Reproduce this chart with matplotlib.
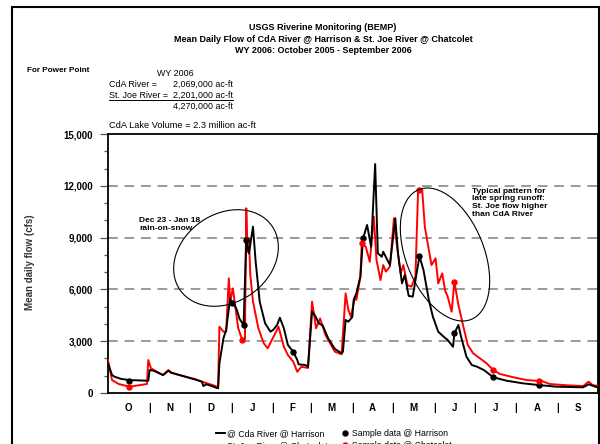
import matplotlib
matplotlib.use('Agg')
import matplotlib.pyplot as plt
from matplotlib.patches import Ellipse, Rectangle
from matplotlib.lines import Line2D
from matplotlib.transforms import IdentityTransform
from matplotlib.ticker import FuncFormatter, MultipleLocator

plt.rcParams['font.family'] = ['Liberation Sans', 'DejaVu Sans']

# dias do ano hidrologico (0 = 1 out 2005) e vazao media diaria (cfs)
cda_dias = [0, 3, 5, 10, 16, 30, 31, 34, 41, 45, 47, 55, 65, 70, 71, 73, 75, 82, 83, 86, 88,
            91, 92, 93, 96, 98, 101, 103, 105, 108, 110, 113, 117, 121, 123, 126, 128, 131,
            134, 138, 141, 142, 147, 149, 152, 154, 157, 160, 164, 169, 174, 175, 177, 179,
            182, 183, 185, 188, 190, 193, 196, 199, 201, 204, 205, 210, 214, 216, 219, 221,
            224, 227, 232, 235, 239, 242, 246, 250, 253, 257, 258, 261, 263, 267, 271, 275,
            280, 287, 297, 309, 321, 334, 354, 358, 363, 365]
cda_cfs = [1700, 1040, 940, 810, 750, 710, 1330, 1290, 1040, 1290, 1180, 1000, 780, 655, 400,
           500, 460, 270, 1720, 3170, 3650, 5480, 5200, 5290, 4810, 4290, 3940, 8860, 8090,
           9630, 7600, 5290, 4040, 3550, 3650, 3940, 4360, 3750, 2780, 2390, 1910, 1660, 1620,
           1520, 4710, 4520, 4040, 3900, 3170, 2550, 2300, 2390, 4230, 4130, 4400, 5390, 5770,
           6740, 8960, 9730, 8470, 13260, 8090, 7890, 8180, 7410, 10120, 8090, 6350, 6830,
           5620, 5580, 7930, 7120, 5390, 4420, 3550, 3260, 3070, 2680, 3460, 3940, 3260, 2100,
           1620, 1520, 1330, 910, 710, 560, 460, 365, 330, 500, 365, 330]

joe_dias = [0, 3, 8, 16, 29, 30, 32, 35, 41, 45, 47, 55, 65, 70, 80, 82, 83, 86, 88, 90, 91,
            93, 95, 97, 100, 102, 103, 104, 105, 106, 108, 112, 116, 119, 122, 124, 127, 131,
            134, 138, 139, 141, 144, 149, 152, 155, 158, 162, 169, 174, 177, 179, 181, 184,
            185, 188, 189, 192, 195, 198, 200, 203, 205, 207, 210, 213, 215, 218, 220, 223,
            226, 229, 231, 234, 236, 239, 241, 244, 246, 249, 251, 253, 256, 258, 261, 265,
            268, 272, 277, 282, 287, 292, 302, 312, 321, 323, 329, 342, 354, 358, 361, 365]
joe_cfs = [1900, 750, 520, 365, 520, 1910, 1430, 1290, 1040, 1330, 1180, 1000, 800, 655, 405,
           330, 3840, 3550, 3550, 6640, 5290, 6060, 4900, 3750, 3070, 3130, 10700, 8180, 8960,
           6830, 5290, 3750, 2880, 2590, 3070, 3360, 3840, 2680, 2200, 1810, 1620, 1230, 1520,
           1450, 5290, 3750, 4320, 3360, 2390, 2240, 5770, 4810, 4420, 5580, 5390, 6740, 8670,
           8470, 7600, 10210, 7700, 6540, 7410, 7030, 7320, 10120, 8670, 6930, 7410, 6250,
           6160, 6740, 11760, 11800, 9630, 8280, 7410, 7800, 6350, 6930, 5970, 5580, 4710,
           6450, 5100, 3750, 2780, 2300, 2010, 1720, 1330, 1100, 910, 750, 695, 700, 520, 445,
           405, 655, 460, 405]

# amostras
am_cda_dias = [16, 92, 101, 103, 138, 190, 232, 258, 287, 321]
am_cda_cfs = [710, 5200, 3940, 8860, 2390, 8960, 7930, 3460, 910, 460]
am_joe_dias = [16, 100, 189, 232, 258, 287, 321]
am_joe_cfs = [350, 3070, 8670, 11760, 6450, 1330, 695]

meses = ['O', 'N', 'D', 'J', 'F', 'M', 'A', 'M', 'J', 'J', 'A', 'S']
dias_mes = [31, 30, 31, 31, 28, 31, 30, 31, 30, 31, 31, 30]

W, H = 600, 444
fig = plt.figure(figsize=(6, 4.44), dpi=100)


def fx(x):
    return x / W


def fy(y):
    return 1 - y / H


ax = fig.add_axes([fx(108), fy(393), (598 - 108) / W, (393 - 134) / H])

# linhas de grade tracejadas
for g in [3000, 6000, 9000, 12000]:
    ax.axhline(g, color='#9a9a9a', lw=1.4, dashes=(5, 3.5), zorder=1)

ax.plot(joe_dias, joe_cfs, color='red', lw=1.4, zorder=3, label='St. Joe River @ Chatcolet')
ax.plot(cda_dias, cda_cfs, color='black', lw=1.4, zorder=4, label='@ Cda River @ Harrison')
ax.plot(am_cda_dias, am_cda_cfs, 'o', color='black', ms=3.6, zorder=5, label='Sample data @ Harrison')
ax.plot(am_joe_dias, am_joe_cfs, 'o', color='red', ms=3.6, zorder=5, label='Sample data @ Chatcolet')

ax.set_xlim(0, 365)
ax.set_ylim(0, 15000)

for s in ax.spines.values():
    s.set_linewidth(1.3)

ax.yaxis.set_major_locator(MultipleLocator(3000))
ax.yaxis.set_minor_locator(MultipleLocator(1000))
ax.yaxis.set_major_formatter(FuncFormatter(lambda v, p: f'{int(v):,}'))
ax.tick_params(axis='y', which='major', length=6, width=0.9, color='#555555', pad=5,
               labelsize=7)
ax.tick_params(axis='y', which='minor', length=3, width=0.9, color='#555555')
for t in ax.get_yticklabels():
    t.set_fontweight('bold')

# meses no eixo x, com separadores
limites = []
meios = []
acc = 0
for d in dias_mes:
    meios.append(acc + d / 2)
    acc += d
    limites.append(acc)
ax.set_xticks(limites[:-1])
ax.set_xticklabels(['|'] * (len(limites) - 1), fontweight='bold', fontsize=7)
ax.set_xticks(meios, minor=True)
ax.set_xticklabels(meses, minor=True, fontweight='bold', fontsize=7)
ax.tick_params(axis='x', which='both', length=0, pad=7)

# textos
fig.text(fx(323), fy(27.5), 'USGS Riverine Monitoring (BEMP)', ha='center', va='center',
         fontsize=6.5, fontweight='bold')
fig.text(fx(323), fy(39.3), 'Mean Daily Flow of CdA River @ Harrison & St. Joe River @ Chatcolet',
         ha='center', va='center', fontsize=6.5, fontweight='bold')
fig.text(fx(323), fy(50.5), 'WY 2006: October 2005 - September 2006', ha='center', va='center',
         fontsize=6.5, fontweight='bold')

fig.text(fx(27), fy(71), 'For Power Point', ha='left', va='center', fontsize=5.9, fontweight='bold')
fig.text(fx(157), fy(73), 'WY 2006', ha='left', va='center', fontsize=6.4)
fig.text(fx(109), fy(84.5), 'CdA River =', ha='left', va='center', fontsize=6.4)
fig.text(fx(233), fy(84.5), '2,069,000 ac-ft', ha='right', va='center', fontsize=6.4)
fig.text(fx(109), fy(95.5), 'St. Joe River =', ha='left', va='center', fontsize=6.4)
fig.text(fx(233), fy(95.5), '2,201,000 ac-ft', ha='right', va='center', fontsize=6.4)
fig.add_artist(Line2D([fx(109), fx(233)], [fy(99.8), fy(99.8)], color='black', lw=0.7))
fig.text(fx(233), fy(106.5), '4,270,000 ac-ft', ha='right', va='center', fontsize=6.4)
fig.text(fx(109), fy(125), 'CdA Lake Volume = 2.3 million ac-ft', ha='left', va='center', fontsize=6.7)

fig.text(fx(30), fy(262), 'Mean daily flow (cfs)', rotation=90, ha='center', va='center',
         fontsize=7, fontweight='bold', color='#333333')

fig.text(fx(139), fy(217), 'Dec 23 - Jan 18\nrain-on-snow', ha='left', va='top', fontsize=6,
         fontweight='bold', linespacing=1.1)
fig.text(fx(472), fy(188), 'Typical pattern for\nlate spring runoff:\nSt. Joe flow higher\nthan CdA River',
         ha='left', va='top', fontsize=6, fontweight='bold', linespacing=1.1)

# elipses (pixels)
e1 = Ellipse((226, H - 258), 112, 88, angle=35, fill=False, ec='black', lw=0.8,
             transform=IdentityTransform())
e2 = Ellipse((445, H - 254.5), 140, 78, angle=-68, fill=False, ec='black', lw=0.8,
             transform=IdentityTransform())
fig.add_artist(e1)
fig.add_artist(e2)

# moldura da figura
moldura = Rectangle((12, -20), 587, H - 7 + 20, fill=False, ec='black', lw=1.5,
                    transform=IdentityTransform())
fig.add_artist(moldura)

h, l = ax.get_legend_handles_labels()
ordem = [1, 0, 2, 3]
fig.legend([h[i] for i in ordem], [l[i] for i in ordem], ncol=2, loc='upper center',
           bbox_to_anchor=(fx(334), fy(421)), frameon=False, fontsize=6.3, handlelength=1.0,
           handletextpad=0.3, columnspacing=1.5, labelspacing=0.4, markerscale=1.0)

fig.savefig('out.png', dpi=100)
